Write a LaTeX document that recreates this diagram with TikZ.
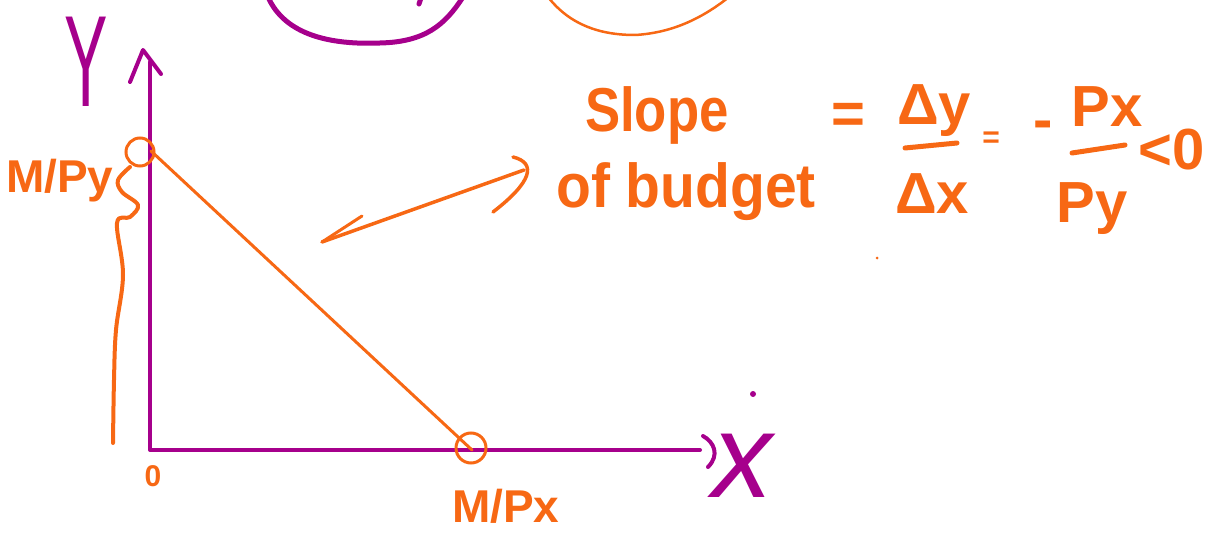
\documentclass[tikz,border=0pt]{standalone}
\usepackage{fontspec}
\setmainfont{Liberation Sans}
\definecolor{pur}{RGB}{166,0,140}
\definecolor{org}{RGB}{247,104,20}
\begin{document}
\begin{tikzpicture}[x=1pt,y=-1pt,
  axis/.style={pur, line width=4pt, line cap=round, line join=round},
  bud/.style={org, line width=3pt, line cap=round, line join=round},
  hand/.style={org, inner sep=0pt, font=\fontsize{58}{64}\selectfont\bfseries},
  ring/.style={draw=org, line width=3pt, circle, minimum size=28pt, inner sep=0pt}]
\useasboundingbox (0,0) rectangle (1206,548);
% axes
\coordinate (O) at (150,450);
\coordinate (Ytop) at (150,62);
\coordinate (Xend) at (700,450);
\draw[axis] (Ytop) -- (O) -- (Xend);
\draw[axis] (130,82) -- (143,50) -- (161,74);
\draw[axis] (703,436) .. controls (714,442) and (720,455) .. (708,467);
% top partial curves
\draw[pur, line width=5pt, line cap=round] (268,-3) .. controls (285,35) and (330,45) .. (380,43) .. controls (425,42) and (445,25) .. (463,-3);
\draw[pur, line width=5pt, line cap=round] (421,-2) -- (419,4);
\draw[org, line width=2.5pt] (548,-3) .. controls (570,25) and (600,35) .. (635,35) .. controls (670,33) and (700,20) .. (729,-3);
% budget line
\node[ring] (ry) at (140,152) {};
\node[ring, minimum size=30pt] (rx) at (471,448) {};
\coordinate (A) at (151,151);
\coordinate (B) at (472,450);
\draw[bud] (A) -- (B);
% brace
\draw[bud, line width=4pt] plot[smooth, tension=0.6] coordinates {(130,167) (118,180) (122,192) (138,205) (130,217) (117,223) (123,275) (116,330) (114,380) (113,443)};
% arrow
\coordinate (arS) at (322,242);
\coordinate (arE) at (524,170);
\draw[bud, line width=3.5pt] (arS) -- (arE);
\draw[bud] (arS) -- (362,216);
\draw[bud, line width=3.5pt] (513,157) .. controls (537,163) and (532,182) .. (493,212);
% labels
\node[pur, inner sep=0pt, font=\fontsize{130}{130}\selectfont, xscale=0.5] (ylab) at (86,62) {Y};
\node[pur, inner sep=0pt, font=\fontsize{120}{120}\selectfont\itshape] (xlab) at (742,466) {x};
\fill[pur] (753,394) circle (3);
\node[hand, anchor=base west, font=\fontsize{46}{50}\selectfont\bfseries] (mpy) at (6,192) {M/Py};
\node[hand, anchor=base west, font=\fontsize{46}{50}\selectfont\bfseries] (mpx) at (452,522) {M/Px};
\node[hand, font=\fontsize{30}{36}\selectfont\bfseries] (zero) at (153,476) {0};
% slope text
\node[hand, anchor=base west, xscale=0.85, font=\fontsize{62}{64}\selectfont\bfseries] (slope) at (585,132) {Slope};
\node[hand, anchor=base west, xscale=0.92, font=\fontsize{62}{64}\selectfont\bfseries] (ofb) at (556,207) {of budget};
\node[hand] (eq1) at (848,118) {=};
\node[hand, anchor=base] (dy) at (934,125) {Δy};
\draw[org, line width=5pt, line cap=round] (905,148) -- (957,143);
\node[hand, anchor=base] (dx) at (932,213) {Δx};
\node[hand, font=\fontsize{30}{36}\selectfont\bfseries] (eq2) at (991,140) {=};
\node[hand] (minus) at (1043,130) {-};
\node[hand, anchor=base] (px) at (1107,127) {Px};
\draw[org, line width=5pt, line cap=round] (1072,153) -- (1125,145);
\node[hand, anchor=base] (py) at (1092,222) {Py};
\node[hand, anchor=base] (lt) at (1172,170) {<0};
\fill[org] (877,258) circle (1.5);
\end{tikzpicture}
\end{document}
